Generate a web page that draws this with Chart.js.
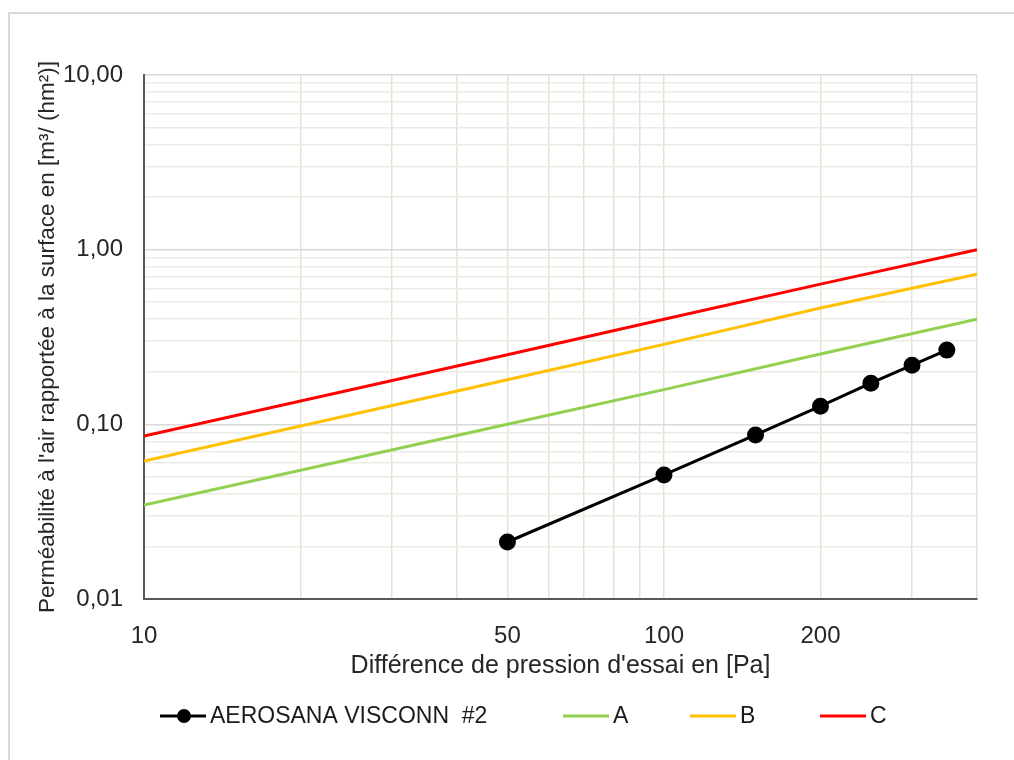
<!DOCTYPE html>
<html>
<head>
<meta charset="utf-8">
<script src="https://cdn.jsdelivr.net/npm/chart.js@4.4.1/dist/chart.umd.min.js"></script>
<style>
  html, body { margin: 0; padding: 0; background: #fff; }
  #wrap { position: relative; width: 1014px; height: 760px; overflow: hidden; }
  #frame { position: absolute; left: 8px; top: 12px; width: 1100px; height: 800px;
           border-top: 2px solid #d9d9d9; border-left: 2px solid #d9d9d9; }
  canvas { position: absolute; left: 0; top: 0; }
</style>
</head>
<body>
<div id="wrap">
  <div id="frame"></div>
  <canvas id="chart" width="1014" height="760"></canvas>
</div>
<script>
// measured series (pressure in Pa, permeability in m3/(h m2))
const pressure = [50, 100, 150, 200, 250, 300, 350]
const aerosana = [0.0212, 0.0513, 0.0869, 0.127, 0.172, 0.218, 0.266]

// class limit lines
const classX = [10, 50, 100, 200, 400]
const classA = [0.0345, 0.100, 0.158, 0.253, 0.40]
const classB = [0.0617, 0.180, 0.287, 0.463, 0.724]
const classC = [0.0857, 0.25, 0.40, 0.635, 1.0]

// axis ticks / grid
const xGrid = [10, 20, 30, 40, 50, 60, 70, 80, 90, 100, 200, 300, 400]
const xLabels = [10, 50, 100, 200]
const yGrid = []
for (const d of [0.01, 0.1, 1]) {
  for (let k = 1; k < 10; k++) yGrid.push(+(d * k).toPrecision(2))
}
yGrid.push(10)
const yLabels = [0.01, 0.1, 1, 10]

const FONT = "'Liberation Sans', Arial, sans-serif"

function pts(xs, ys) {
  return xs.map((x, i) => ({ x: x, y: ys[i] }))
}

// legend drawn under the plot: line (+ marker) then label
const legendPlugin = {
  id: "bottomLegend",
  afterDraw(chart) {
    const ctx = chart.ctx
    const y = 716
    const items = [
      { x: 160, ds: 0 },
      { x: 563, ds: 1 },
      { x: 690, ds: 2 },
      { x: 820, ds: 3 },
    ]
    ctx.save()
    ctx.font = "23px " + FONT
    ctx.textBaseline = "middle"
    items.forEach(it => {
      const ds = chart.data.datasets[it.ds]
      ctx.strokeStyle = ds.borderColor
      ctx.lineWidth = 3
      ctx.beginPath()
      ctx.moveTo(it.x, y)
      ctx.lineTo(it.x + 46, y)
      ctx.stroke()
      if (ds.pointRadius > 0) {
        ctx.fillStyle = ds.pointBackgroundColor
        ctx.beginPath()
        ctx.arc(it.x + 24, y, 7, 0, Math.PI * 2)
        ctx.fill()
      }
      ctx.fillStyle = "#1a1a1a"
      ctx.fillText(ds.label, it.x + 50, y + 1)
    })
    ctx.restore()
  },
}

new Chart(document.getElementById("chart"), {
  type: "scatter",
  plugins: [legendPlugin],
  data: {
    datasets: [
      {
        label: "AEROSANA VISCONN  #2",
        data: pts(pressure, aerosana),
        showLine: true,
        borderColor: "#000000",
        backgroundColor: "#000000",
        pointBackgroundColor: "#000000",
        borderWidth: 3,
        pointRadius: 7,
        order: 0,
      },
      {
        label: "A",
        data: pts(classX, classA),
        showLine: true,
        borderColor: "#92d050",
        borderWidth: 3,
        pointRadius: 0,
        order: 3,
      },
      {
        label: "B",
        data: pts(classX, classB),
        showLine: true,
        borderColor: "#ffc000",
        borderWidth: 3,
        pointRadius: 0,
        order: 2,
      },
      {
        label: "C",
        data: pts(classX, classC),
        showLine: true,
        borderColor: "#ff0000",
        borderWidth: 3,
        pointRadius: 0,
        order: 1,
      },
    ],
  },
  options: {
    responsive: false,
    animation: false,
    layout: { padding: { left: 0, top: 75, right: 37, bottom: 70 } },
    plugins: {
      legend: { display: false },
      tooltip: { enabled: false },
    },
    scales: {
      x: {
        type: "logarithmic",
        min: 10,
        max: 400,
        afterBuildTicks: s => { s.ticks = xGrid.map(v => ({ value: v })) },
        afterFit: s => { s.height = 91 },
        grid: { color: "#e3e3d5", lineWidth: 1.5, drawTicks: false },
        border: { color: "#595959", width: 2 },
        ticks: {
          autoSkip: false,
          maxRotation: 0,
          padding: 23,
          color: "#262626",
          font: { family: FONT, size: 24 },
          callback: v => (xLabels.includes(v) ? String(v) : ""),
        },
        title: {
          display: true,
          text: "Différence de pression d'essai en [Pa]",
          color: "#262626",
          font: { family: FONT, size: 25 },
          padding: { top: 4, bottom: 9 },
        },
      },
      y: {
        type: "logarithmic",
        min: 0.01,
        max: 10,
        afterBuildTicks: s => { s.ticks = yGrid.map(v => ({ value: v })) },
        afterFit: s => { s.width = 144 },
        grid: {
          color: c => (yLabels.includes(c.tick.value) ? "#d9d9d9" : "#ebebe3"),
          lineWidth: 1.5,
          drawTicks: false,
        },
        border: { color: "#595959", width: 2 },
        ticks: {
          autoSkip: false,
          padding: 21,
          color: "#262626",
          font: { family: FONT, size: 24 },
          callback: v => (yLabels.includes(v) ? v.toFixed(2).replace(".", ",") : ""),
        },
        title: {
          display: true,
          text: "Perméabilité à l'air rapportée à la surface en [m³/ (hm²)]",
          color: "#262626",
          font: { family: FONT, size: 22.5 },
          padding: { top: 34, bottom: 0 },
        },
      },
    },
  },
})
</script>
</body>
</html>
